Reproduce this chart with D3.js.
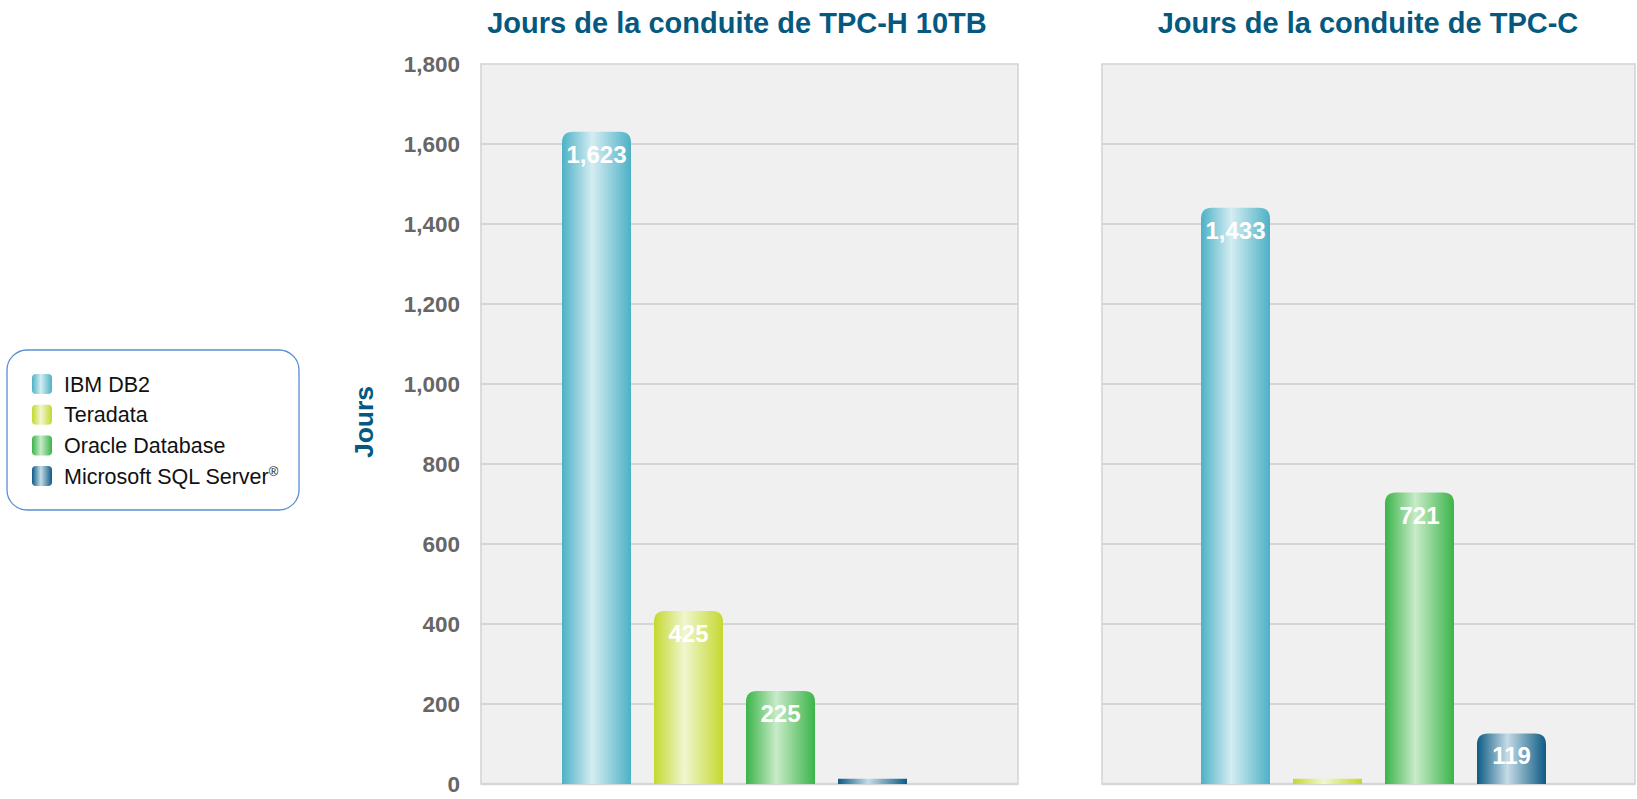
<!DOCTYPE html>
<html>
<head>
<meta charset="utf-8">
<script src="https://cdn.jsdelivr.net/npm/d3@7"></script>
<style>
  html, body { margin: 0; padding: 0; background: #fff; }
  svg { display: block; font-family: "Liberation Sans", Arial, Helvetica, sans-serif; }
</style>
</head>
<body>
<svg id="chart" width="1637" height="799"></svg>
<script>
// data
var series = ["IBM DB2", "Teradata", "Oracle Database", "Microsoft SQL Server"];
var panelTitles = ["Jours de la conduite de TPC-H 10TB", "Jours de la conduite de TPC-C"];
var tpchDays = [1623, 425, 225, 13];
var tpccDays = [1433, 13, 721, 119];
var yTicks = [0, 200, 400, 600, 800, 1000, 1200, 1400, 1600, 1800];
var yLabel = "Jours";

var colors = [
  { dark: "#4db1c6", light: "#d4edf2" },
  { dark: "#c4d82f", light: "#f1f6cf" },
  { dark: "#3bb44a", light: "#c8ebc8" },
  { dark: "#0d5b85", light: "#c6dce6" }
];

var titleColor = "#05597f";
var svg = d3.select("#chart");
var defs = svg.append("defs");

colors.forEach(function(c, i) {
  var g = defs.append("linearGradient")
    .attr("id", "grad" + i)
    .attr("x1", "0%").attr("x2", "100%").attr("y1", "0%").attr("y2", "0%");
  g.append("stop").attr("offset", "0%").attr("stop-color", c.dark);
  g.append("stop").attr("offset", "44%").attr("stop-color", c.light);
  g.append("stop").attr("offset", "100%").attr("stop-color", c.dark);
});

var plotTop = 64, plotBottom = 784;
var y = d3.scaleLinear().domain([0, 1800]).range([plotBottom, plotTop]);

var panels = [
  { title: panelTitles[0], values: tpchDays, x0: 481, x1: 1018, bars: [562, 907], titleX: 737, axis: true },
  { title: panelTitles[1], values: tpccDays, x0: 1102, x1: 1635, bars: [1201, 1546], titleX: 1368, axis: false }
];

var fmt = d3.format(",");

function barPath(x, w, yTop, yBot, r) {
  r = Math.min(r, (yBot - yTop), w / 2);
  return "M" + x + "," + yBot +
    "V" + (yTop + r) +
    "Q" + x + "," + yTop + " " + (x + r) + "," + yTop +
    "H" + (x + w - r) +
    "Q" + (x + w) + "," + yTop + " " + (x + w) + "," + (yTop + r) +
    "V" + yBot + "Z";
}

panels.forEach(function(p) {
  var g = svg.append("g");

  g.append("rect")
    .attr("x", p.x0).attr("y", plotTop)
    .attr("width", p.x1 - p.x0).attr("height", plotBottom - plotTop)
    .attr("fill", "#f0f0f0")
    .attr("stroke", "#d2d2d2")
    .attr("stroke-width", 1.5);

  g.selectAll("line.grid").data(yTicks.slice(1, -1)).enter().append("line")
    .attr("class", "grid")
    .attr("x1", p.x0).attr("x2", p.x1)
    .attr("y1", function(d) { return y(d); })
    .attr("y2", function(d) { return y(d); })
    .attr("stroke", "#cdcdcd")
    .attr("stroke-width", 1.5);

  g.append("line")
    .attr("x1", p.x0).attr("x2", p.x1)
    .attr("y1", y(0)).attr("y2", y(0))
    .attr("stroke", "#d6d6d6")
    .attr("stroke-width", 2.5);

  var x = d3.scaleBand().domain(series).range(p.bars).paddingInner(0.25).paddingOuter(0);

  var bars = g.selectAll("g.bar").data(p.values).enter().append("g").attr("class", "bar");

  bars.append("path")
    .attr("d", function(d, i) {
      var h = y(0) - y(d);
      var pad = h > 20 ? 3 : 0;
      return barPath(x(series[i]), x.bandwidth(), y(d) - pad, y(0), h > 20 ? 11 : 0);
    })
    .attr("fill", function(d, i) { return "url(#grad" + i + ")"; });

  bars.filter(function(d) { return d > 50; }).append("text")
    .attr("x", function(d) { return x(series[p.values.indexOf(d)]) + x.bandwidth() / 2; })
    .attr("y", function(d) { return y(d) + 28; })
    .attr("text-anchor", "middle")
    .attr("fill", "#fff")
    .attr("font-weight", "bold")
    .attr("font-size", 24)
    .text(function(d) { return fmt(d); });

  svg.append("text")
    .attr("x", p.titleX).attr("y", 33)
    .attr("text-anchor", "middle")
    .attr("fill", titleColor)
    .attr("font-weight", "bold")
    .attr("font-size", 29)
    .text(p.title);

  if (p.axis) {
    var ax = svg.append("g")
      .attr("transform", "translate(" + p.x0 + ",0)")
      .call(d3.axisLeft(y).tickValues(yTicks).tickFormat(fmt).tickSize(0).tickPadding(21));
    ax.select(".domain").remove();
    ax.selectAll("text")
      .attr("fill", "#666")
      .attr("font-weight", "bold")
      .attr("font-size", 22.5)
      .attr("font-family", "Liberation Sans, Arial, sans-serif");
  }
});

svg.append("text")
  .attr("transform", "translate(373,422) rotate(-90)")
  .attr("text-anchor", "middle")
  .attr("fill", titleColor)
  .attr("font-weight", "bold")
  .attr("font-size", 26.5)
  .text(yLabel);

// legend
var legend = svg.append("g");
legend.append("rect")
  .attr("x", 7).attr("y", 350)
  .attr("width", 292).attr("height", 160)
  .attr("rx", 20)
  .attr("fill", "#fff")
  .attr("stroke", "#5a8fd2")
  .attr("stroke-width", 1.3);

var items = legend.selectAll("g.item").data(series).enter().append("g")
  .attr("class", "item")
  .attr("transform", function(d, i) { return "translate(32," + (374 + i * 30.7) + ")"; });

items.append("rect")
  .attr("width", 20).attr("height", 20).attr("rx", 4)
  .attr("fill", function(d, i) { return "url(#grad" + i + ")"; });

var lt = items.append("text")
  .attr("x", 32).attr("y", 17.5)
  .attr("font-size", 21.5)
  .attr("fill", "#111")
  .text(function(d) { return d; });

lt.filter(function(d, i) { return i === series.length - 1; })
  .append("tspan")
  .attr("font-size", 13)
  .attr("dy", -8)
  .text("®");
</script>
</body>
</html>
